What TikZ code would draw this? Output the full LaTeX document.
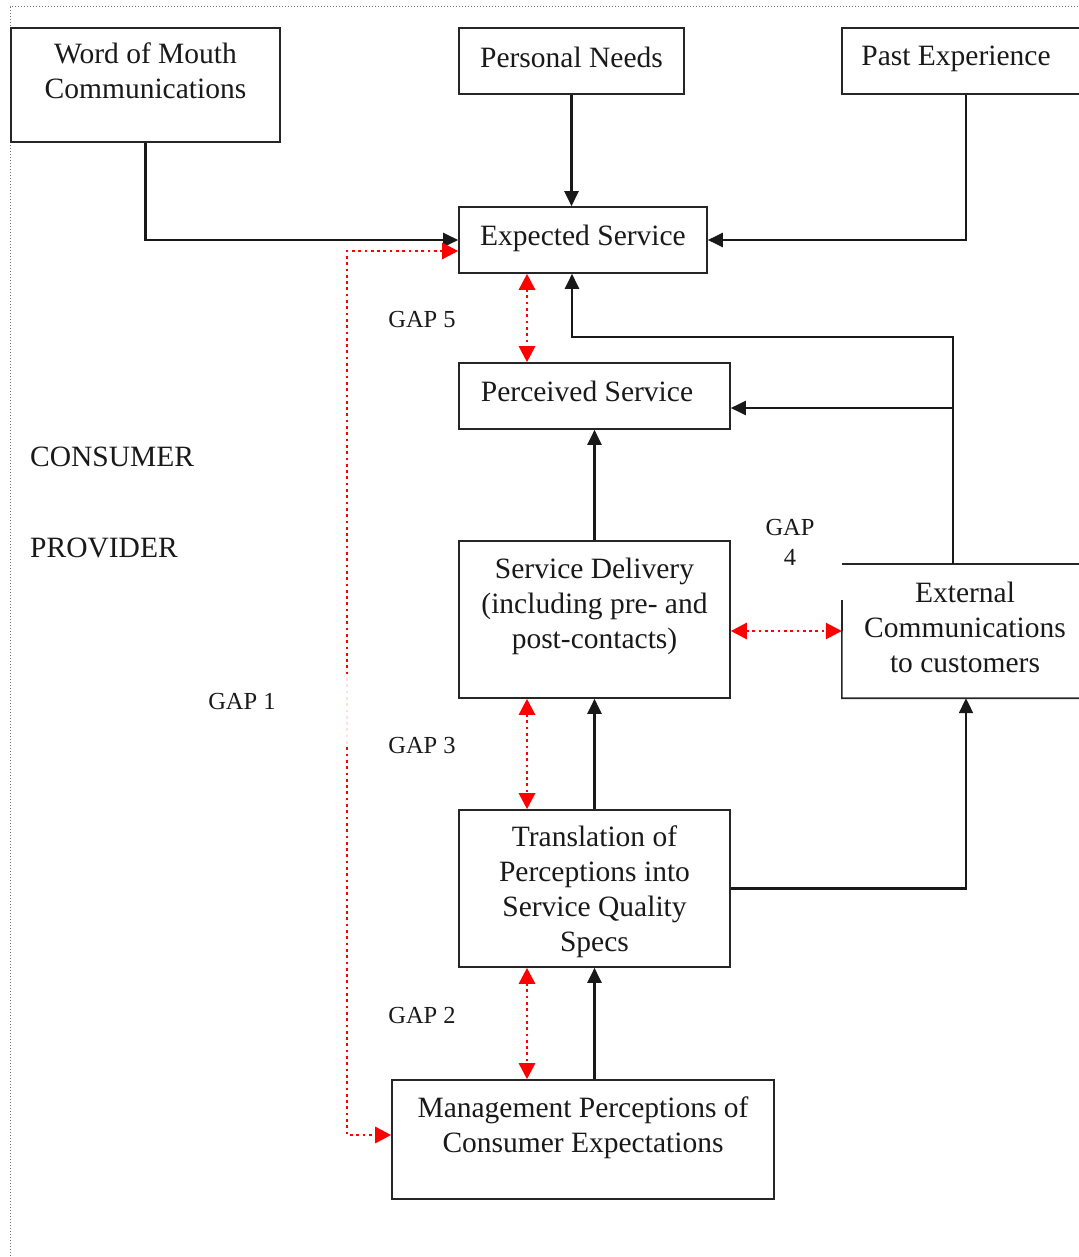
\documentclass[tikz,border=0pt]{standalone}
\usepackage{fontspec}
\setmainfont{Liberation Serif}
\usetikzlibrary{arrows.meta}
\begin{document}
\begin{tikzpicture}[x=1pt,y=-1pt,
  box/.style={draw=black!85, line width=1.6pt, inner sep=0pt},
  btxt/.style={font=\fontsize{29.5}{35}\selectfont, align=center, inner sep=0pt, text=black!90},
  gtxt/.style={font=\fontsize{24.5}{30}\selectfont, align=center, inner sep=0pt, text=black!90},
  side/.style={font=\fontsize{29.5}{35}\selectfont, anchor=west, inner sep=0pt, text=black!90},
  arr/.style={draw=black!90, line width=2.1pt, -{Triangle[length=15pt,width=14pt]}},
  gap/.style={draw=red, line width=2.7pt, dash pattern=on 2.7pt off 3.6pt, {Triangle[length=16pt,width=16pt]}-{Triangle[length=16pt,width=16pt]}},
  frame/.style={draw=black!55, line width=1pt, dash pattern=on 1pt off 2pt}
]
\useasboundingbox (0,0) rectangle (1078,1257);
% frame
\coordinate (ftr) at (1078,7);
\coordinate (ftl) at (10,7);
\coordinate (fbl) at (10,1257);
\draw[frame] (ftr) -- (ftl) -- (fbl);

% boxes
\node[box, minimum width=269pt, minimum height=114pt] (wom) at (145.5,85) {};
\node[btxt] (womt) at (145.5,71) {Word of Mouth\\Communications};
\node[box, minimum width=225pt, minimum height=66pt] (pn) at (571.5,61) {};
\node[btxt] (pnt) at (571.5,57) {Personal Needs};
\node[box, minimum width=248pt, minimum height=66pt] (past) at (966,61) {};
\node[btxt] (pastt) at (956,59) {Past Experience};
\node[box, minimum width=248pt, minimum height=66pt] (exp) at (583,240) {};
\node[btxt] (expt) at (583,238) {Expected Service};
\node[box, minimum width=271pt, minimum height=66pt] (perc) at (594.5,396) {};
\node[btxt] (perct) at (587,391) {Perceived Service};
\node[box, minimum width=271pt, minimum height=157pt] (sd) at (594.5,619.5) {};
\node[btxt] (sdt) at (594.5,606) {Service Delivery\\(including pre- and\\post-contacts)};
\node[inner sep=0pt, minimum width=248pt, minimum height=134pt] (ext) at (966,631) {};
\draw[draw=black!85, line width=1.6pt] (ext.north east) -- (ext.north west);
\coordinate (extl) at (842,600);
\draw[draw=black!85, line width=1.6pt] (extl) -- (ext.south west) -- (ext.south east);
\node[btxt] (extt) at (965,627) {External\\Communications\\to customers};
\node[box, minimum width=271pt, minimum height=157pt] (trans) at (594.5,888.5) {};
\node[btxt] (transt) at (594.5,892) {Translation of\\Perceptions into\\Service Quality\\Specs};
\node[box, minimum width=382pt, minimum height=119pt] (mgmt) at (583,1139.5) {};
\node[btxt] (mgmtt) at (583,1128) {Management Perceptions of\\Consumer Expectations};

% side labels
\node[side] (cons) at (30,457) {CONSUMER};
\node[side] (prov) at (30,548) {PROVIDER};
\node[gtxt] (g5) at (422,320) {GAP 5};
\node[gtxt] (g4) at (790,542) {GAP\\4};
\node[gtxt] (g3) at (422,746) {GAP 3};
\node[gtxt] (g2) at (422,1015) {GAP 2};
\node[gtxt] (g1) at (242,702) {GAP 1};

% black connectors
\draw[arr] (wom.south) |- (exp.west);
\draw[arr] (pn.south) -- (pn.south |- exp.north);
\draw[arr] (past.south) |- (exp.east);
\coordinate (eup) at (953,337);
\coordinate (eleft) at (572,337);
\draw[arr] (eup |- ext.north) -- (eup) -- (eleft) -- (eleft |- exp.south);
\draw[arr] (eup |- perc.east) ++(0,12) -- ([yshift=-12pt]perc.east);
\draw[arr] (sd.north) -- (perc.south);
\draw[arr] (trans.north) -- (sd.south);
\draw[arr] (mgmt.north -| trans.south) -- (trans.south);
\draw[arr] (trans.east) -| (ext.south);

% red gaps
\coordinate (gx) at (527,0);
\draw[gap] (gx |- exp.south) -- (gx |- perc.north);
\draw[gap] (sd.east |- ext.west) -- (ext.west);
\draw[gap] (gx |- sd.south) -- (gx |- trans.north);
\draw[gap] (gx |- trans.south) -- (gx |- mgmt.north);
\coordinate (g1top) at (347,251);
\coordinate (g1bot) at (347,1135);
\draw[gap] (exp.west |- g1top) -- (g1top) -- (g1bot) -- (mgmt.west |- g1bot);
\coordinate (fa) at (347,675);
\coordinate (fb) at (347,745);
\draw[white, line width=4pt, opacity=0.88] (fa) -- (fb);
\end{tikzpicture}
\end{document}
